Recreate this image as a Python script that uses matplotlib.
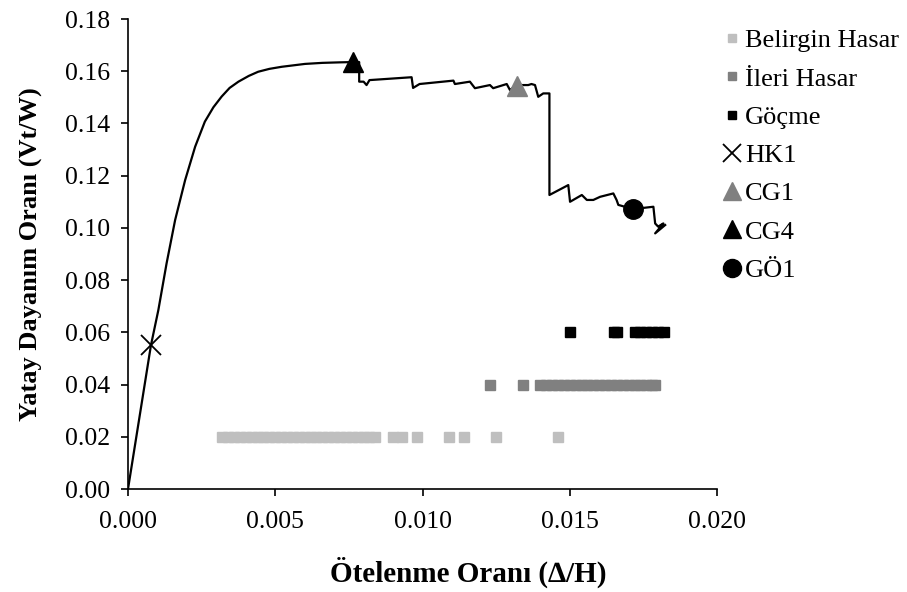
import matplotlib
matplotlib.use("Agg")
import matplotlib.pyplot as plt
from matplotlib.lines import Line2D

plt.rcParams['font.family'] = ['Liberation Serif', 'DejaVu Serif']

# Pushover curve (drift ratio vs base shear ratio)
curve_x = [0.0, 0.00078, 0.00103, 0.00131, 0.0016, 0.00194, 0.00228, 0.00261, 0.00290,
           0.00318, 0.00345, 0.00375, 0.00410, 0.00442, 0.00480, 0.00522, 0.00601, 0.0066,
           0.0072, 0.0076, 0.00785, 0.00785, 0.0080, 0.0081,
           0.0082, 0.00963, 0.00968, 0.0099, 0.01105, 0.01110, 0.01161, 0.01178, 0.01229,
           0.01240, 0.01286, 0.01297, 0.0132, 0.01359, 0.01370, 0.01382, 0.01393, 0.01410,
           0.01431, 0.01431, 0.01495, 0.01501, 0.01541, 0.01558, 0.01580, 0.01603, 0.01648,
           0.01659, 0.01665, 0.01715, 0.01784, 0.01790, 0.01800, 0.01818, 0.01790, 0.01824]
curve_y = [0.0, 0.0551, 0.0685, 0.0864, 0.1030, 0.1183, 0.1311, 0.1407, 0.1462,
           0.1503, 0.1536, 0.1560, 0.1582, 0.1598, 0.1609, 0.1617, 0.1628, 0.1632,
           0.1634, 0.1635, 0.1635, 0.156, 0.1560, 0.1547,
           0.1566, 0.1577, 0.1536, 0.1551, 0.1564, 0.1551, 0.1560, 0.1535, 0.1547,
           0.1535, 0.1551, 0.1528, 0.1547, 0.1547, 0.1551, 0.1547, 0.1502, 0.1515,
           0.1515, 0.1126, 0.1164, 0.1100, 0.1126, 0.1107, 0.1107, 0.1119, 0.1132,
           0.1107, 0.1088, 0.1072, 0.1081, 0.1017, 0.1005, 0.1017, 0.0979, 0.1011]

# Damage-state scatter (drift ratios)
belirgin_x = [0.0032, 0.0034, 0.0036, 0.0038, 0.0040, 0.0042, 0.0044, 0.0046, 0.0048, 0.0050,
              0.0052, 0.0054, 0.0056, 0.0058, 0.0060, 0.0062, 0.0064, 0.0066, 0.0068, 0.0070,
              0.0072, 0.0074, 0.0076, 0.0078, 0.0080, 0.0082, 0.0084, 0.0090, 0.0093, 0.0098,
              0.0109, 0.0114, 0.0125, 0.0146]
belirgin_y = 0.02
ileri_x = [0.0123, 0.0134, 0.0140, 0.0142, 0.0144, 0.0146, 0.0148, 0.0150, 0.0152, 0.0154,
           0.0156, 0.0158, 0.0160, 0.0162, 0.0164, 0.0166, 0.0168, 0.0170, 0.0172, 0.0174,
           0.0176, 0.0178, 0.0179]
ileri_y = 0.04
gocme_x = [0.0150, 0.0165, 0.0166, 0.0172, 0.0174, 0.0176, 0.0178, 0.0180, 0.0182]
gocme_y = 0.06

# Performance points
hk1 = (0.00078, 0.0551)
cg1 = (0.0132, 0.1545)
cg4 = (0.00764, 0.1635)
go1 = (0.01715, 0.1072)

x_ticks = [0.0, 0.005, 0.010, 0.015, 0.020]
y_ticks = [0.0, 0.02, 0.04, 0.06, 0.08, 0.10, 0.12, 0.14, 0.16, 0.18]

light = '#BFBFBF'
dark = '#808080'

fig = plt.figure(figsize=(9.07, 5.92), dpi=100)
ax = fig.add_axes([128/907, 1-489/592, (717-128)/907, (489-19)/592])

ax.plot(curve_x, curve_y, color='black', lw=1.6, zorder=2)
ax.plot(belirgin_x, [belirgin_y]*len(belirgin_x), 's', color=light, ms=7, mec=light, ls='none', zorder=1)
ax.plot(ileri_x, [ileri_y]*len(ileri_x), 's', color=dark, ms=7, mec=dark, ls='none', zorder=1)
ax.plot(gocme_x, [gocme_y]*len(gocme_x), 's', color='black', ms=7, ls='none', zorder=1)
ax.plot(*hk1, marker='x', color='black', ms=14, mew=1.3, ls='none', zorder=3)
ax.plot(*cg1, marker='^', color=dark, ms=14, ls='none', zorder=3)
ax.plot(*cg4, marker='^', color='black', ms=14, ls='none', zorder=3)
ax.plot(*go1, marker='o', color='black', ms=14, ls='none', zorder=3)

ax.set_xlim(0, 0.02)
ax.set_ylim(0, 0.18)
ax.set_xticks(x_ticks)
ax.set_yticks(y_ticks)
ax.set_xticklabels([f'{v:.3f}' for v in x_ticks])
ax.set_yticklabels([f'{v:.2f}' for v in y_ticks])
ax.spines['top'].set_visible(False)
ax.spines['right'].set_visible(False)
for s in ['left', 'bottom']:
    ax.spines[s].set_linewidth(1.2)
ax.tick_params(direction='out', length=5, width=1.2, labelsize=18.5)
ax.tick_params(axis='x', pad=11)
ax.tick_params(axis='y', pad=8)
fig.text(468/907, 1-572/592, 'Ötelenme Oranı (∆/H)', fontsize=21, fontweight='bold',
         ha='center', va='center')
ax.set_ylabel('Yatay Dayanım Oranı (Vt/W)', fontsize=19, fontweight='bold', labelpad=16)

handles = [
    Line2D([], [], marker='s', color=light, ms=6, ls='none'),
    Line2D([], [], marker='s', color=dark, ms=6, ls='none'),
    Line2D([], [], marker='s', color='black', ms=6, ls='none'),
    Line2D([], [], marker='x', color='black', ms=13, mew=1.3, ls='none'),
    Line2D([], [], marker='^', color=dark, ms=13, ls='none'),
    Line2D([], [], marker='^', color='black', ms=13, ls='none'),
    Line2D([], [], marker='o', color='black', ms=13, ls='none'),
]
labels = ['Belirgin Hasar', 'İleri Hasar', 'Göçme', 'HK1', 'CG1', 'CG4', 'GÖ1']
fig.legend(handles, labels, loc='upper left', bbox_to_anchor=(721/907, 1-29/592),
           frameon=False, fontsize=19, handlelength=0.8, handletextpad=0.12,
           labelspacing=0.56, borderpad=0, borderaxespad=0)

fig.savefig('out.png', dpi=100)
